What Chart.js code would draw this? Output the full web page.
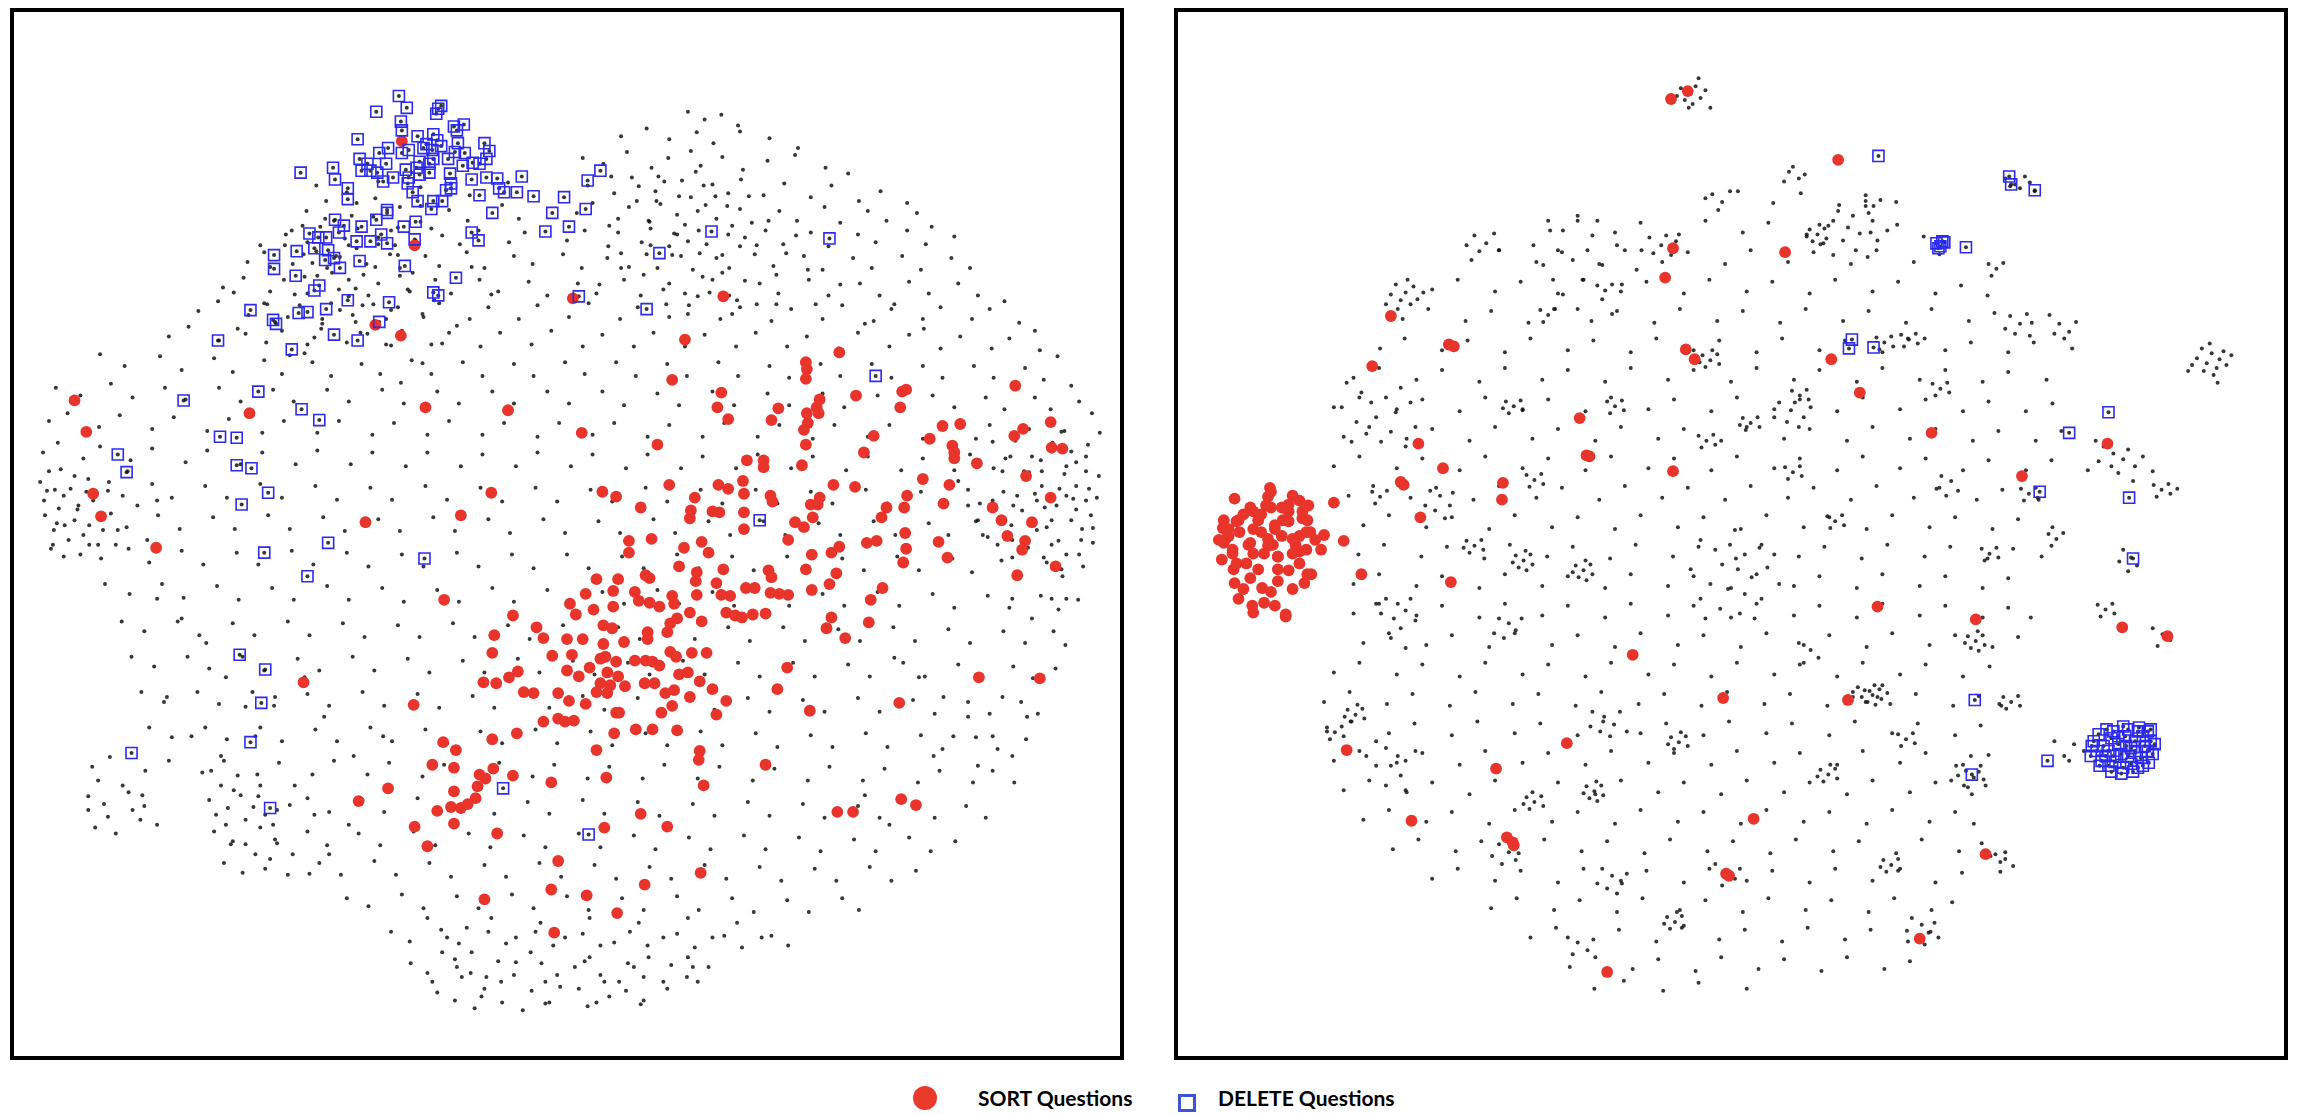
<!DOCTYPE html>
<html>
<head>
<meta charset="utf-8">
<script src="https://cdn.jsdelivr.net/npm/chart.js@4.4.1/dist/chart.umd.min.js"></script>
<style>
  html, body { margin: 0; padding: 0; background: #fff; }
  body { width: 2300px; height: 1114px; position: relative; overflow: hidden; font-family: Lato, "Open Sans", sans-serif; }
  .panel { position: absolute; top: 8px; width: 1106px; height: 1044px; border: 4px solid #000; background: #fff; }
  .panel canvas { display: block; }
  .legend-text { position: absolute; top: 1085px; font-weight: 700; font-size: 21px; color: #000; line-height: 26px; white-space: nowrap; }
  .legend-dot { position: absolute; left: 913px; top: 1086px; width: 24px; height: 24px; border-radius: 50%; background: #ea3a2c; }
  .legend-box { position: absolute; left: 1178px; top: 1094px; width: 12px; height: 12px; border: 3.5px solid #3c55d8; background: #fff; }
</style>
</head>
<body>
<div class="panel" style="left:10px"><canvas id="leftChart" width="1106" height="1044"></canvas></div>
<div class="panel" style="left:1174px"><canvas id="rightChart" width="1106" height="1044"></canvas></div>
<div class="legend-dot"></div>
<div class="legend-text" id="sortLabel" style="left:978px"></div>
<div class="legend-box"></div>
<div class="legend-text" id="deleteLabel" style="left:1218px"></div>
<script>
// series names
const seriesNames = ['SORT Questions', 'DELETE Questions'];

// left panel (flat x,y lists in picture pixels)
const leftSort = [
  66,398, 78,430, 85,493, 93,516, 149,548, 244,411, 372,321, 398,332, 423,405, 507,408, 490,492, 459,515, 362,522,
  399,134, 412,240, 573,294, 726,292, 687,336, 844,349, 810,359, 811,366, 810,376, 674,377, 724,390, 720,405, 731,417,
  782,406, 775,418, 824,397, 821,405, 823,411, 811,411, 812,421, 808,428, 810,443, 806,464, 861,393, 908,389, 912,387,
  906,405, 879,434, 869,451, 1023,383, 949,424, 967,422, 936,437, 959,444, 961,451, 961,457, 984,462, 1059,420, 1031,427,
  1022,434, 1060,446, 1071,447, 1034,475, 1059,497, 929,478, 956,484, 950,503, 913,495, 910,507, 892,507, 887,517,
  1000,507, 1009,520, 1040,522, 1015,536, 1033,541, 1030,550, 582,431, 659,443, 603,491, 617,496, 642,507, 671,484,
  697,497, 693,510, 692,518, 715,511, 722,512, 721,484, 731,488, 746,480, 747,493, 747,512, 747,529, 750,459, 767,459,
  767,466, 774,495, 776,501, 799,522, 808,527, 817,517, 815,504, 824,497, 822,504, 838,484, 860,486, 792,540, 630,541,
  630,553, 653,539, 686,548, 704,542, 711,553, 872,543, 882,541, 911,533, 912,549, 945,542, 954,558, 816,555, 836,553,
  844,547, 909,563, 1025,576, 1064,567, 810,570, 772,571, 775,578, 726,570, 699,573, 698,582, 681,567, 841,574, 834,585,
  816,591, 888,589, 876,601, 874,624, 836,619, 831,630, 850,640, 647,576, 651,579, 619,580, 597,580, 586,595, 614,592,
  614,608, 594,611, 570,605, 576,616, 636,593, 640,602, 651,604, 661,608, 674,597, 676,605, 699,596, 719,584, 724,596,
  733,597, 749,589, 758,589, 774,594, 783,595, 792,596, 729,614, 738,617, 745,619, 756,616, 769,615, 704,623, 692,614,
  679,620, 672,625, 669,634, 604,627, 613,630, 583,641, 567,641, 625,644, 649,634, 649,641, 604,646, 606,659, 572,657,
  601,661, 590,670, 617,664, 636,663, 647,663, 654,664, 661,668, 672,654, 678,659, 694,655, 709,655, 608,675, 619,679,
  601,686, 611,688, 626,689, 597,695, 608,696, 586,707, 569,704, 579,679, 567,673, 681,677, 690,675, 646,686, 656,686,
  667,696, 676,693, 702,684, 715,692, 729,704, 719,718, 692,700, 674,709, 663,716, 617,716, 620,716, 574,724, 565,725,
  615,737, 637,733, 654,733, 679,734, 791,670, 781,692, 814,714, 905,706, 986,680, 1048,681, 597,754, 607,782, 702,755,
  701,764, 769,769, 706,790, 642,819, 605,833, 669,832, 907,804, 922,810, 842,817, 858,817, 703,879, 646,891, 587,902,
  618,920, 442,601, 512,617, 536,629, 543,640, 493,637, 491,655, 552,658, 558,696, 517,674, 508,680, 495,686, 482,685,
  523,695, 533,696, 543,725, 558,722, 516,737, 491,743, 411,708, 299,685, 441,746, 454,754, 430,769, 452,772, 492,773,
  478,779, 484,783, 512,780, 476,791, 474,803, 452,796, 466,809, 459,813, 449,812, 435,816, 452,829, 412,832, 425,852,
  496,839, 551,787, 558,867, 551,896, 483,906, 554,940, 385,793, 355,806
];
const leftDelete = [
  396,88, 404,100, 373,104, 436,101, 439,98, 434,106, 398,114, 399,123, 452,119, 462,117, 455,123, 354,132, 415,129,
  431,127, 435,133, 424,137, 421,141, 430,143, 439,139, 456,136, 453,145, 385,141, 399,146, 406,143, 376,146, 483,136,
  488,144, 485,152, 478,157, 463,146, 446,152, 431,152, 427,157, 417,155, 414,161, 403,163, 356,152, 364,157, 358,164,
  367,164, 374,166, 383,157, 329,161, 296,166, 390,171, 406,171, 417,168, 427,166, 448,167, 461,159, 471,156, 470,173,
  485,171, 496,172, 521,170, 380,175, 405,177, 449,177, 449,182, 444,184, 331,173, 344,182, 344,193, 410,186, 415,195,
  431,195, 440,195, 429,203, 478,189, 498,182, 503,186, 516,186, 533,190, 564,191, 491,207, 552,207, 545,226, 384,204,
  384,207, 373,214, 331,214, 340,220, 335,227, 358,221, 378,229, 367,236, 353,236, 384,238, 401,221, 413,216, 412,234,
  470,227, 477,235, 305,228, 314,232, 322,232, 310,243, 324,245, 292,246, 269,250, 269,264, 321,255, 330,253, 336,263,
  356,256, 402,261, 291,271, 315,281, 310,286, 344,296, 386,298, 431,288, 436,291, 454,273, 245,306, 268,316, 271,320,
  294,309, 303,308, 322,305, 376,318, 330,331, 354,337, 212,337, 287,346, 569,221, 253,389, 177,398, 297,407, 315,418,
  214,435, 231,436, 110,453, 119,471, 231,464, 246,467, 263,492, 236,504, 324,543, 259,553, 422,559, 303,577, 234,657,
  260,672, 256,706, 245,746, 124,757, 265,813, 502,793, 601,164, 588,174, 586,203, 714,226, 661,248, 834,233, 579,292,
  648,305, 881,373, 763,520, 589,840
];
const leftGrey = [
  690,104, 707,112, 724,107, 741,118,
  622,129, 648,121, 671,132, 699,125, 716,136, 743,124, 773,131, 802,141,
  583,151, 604,157, 628,145, 653,161, 670,151, 693,144, 703,159, 725,150, 746,163, 771,154, 799,148, 830,161, 853,167,
  312,179, 343,186, 375,175, 418,181, 468,189, 507,176, 588,179, 615,187, 633,171, 657,185, 666,175, 693,191, 706,179,
  731,187, 744,173, 767,189, 788,177, 815,191, 836,179, 864,195, 886,185, 913,197,
  302,205, 321,213, 353,197, 370,211, 397,201, 418,216, 447,204, 466,215, 501,199, 518,213, 577,207, 593,197, 619,213,
  630,201, 651,216, 658,195, 679,209, 687,219, 708,199, 719,213, 743,203, 755,217, 783,205, 801,215, 829,201, 845,217,
  873,205, 892,215, 923,207, 938,221,
  281,229, 303,237, 316,221, 341,233, 354,223, 375,239, 388,225, 413,235, 429,223, 458,239, 477,225, 508,237, 524,227,
  567,235, 585,225, 609,241, 619,227, 643,237, 652,223, 671,241, 679,229, 701,225, 709,239, 731,229, 743,241, 769,225,
  787,239, 815,227, 833,241, 863,229, 881,237, 913,225, 932,239, 961,231,
  242,257, 259,247, 288,259, 299,249, 323,263, 332,251, 353,243, 363,259, 387,249, 397,263, 423,251, 437,261, 465,247,
  483,263, 513,251, 532,259, 563,249, 582,263, 608,253, 622,263, 648,249, 659,263, 683,251, 695,265, 719,253, 732,263,
  758,249, 777,261, 808,251, 827,265, 858,253, 877,263, 908,251, 927,265, 958,253, 977,263,
  217,283, 238,273, 265,287, 279,275, 303,289, 313,271, 335,285, 345,275, 365,291, 375,279, 397,271, 407,287, 433,275,
  449,289, 478,275, 497,287, 528,277, 547,291, 578,279, 597,289, 625,275, 642,291, 671,279, 687,289, 715,275, 732,291,
  763,279, 782,289, 813,275, 833,291, 865,279, 885,291, 915,277, 935,289, 965,279, 985,291, 1012,297,
  192,307, 212,297, 243,311, 259,299, 283,313, 295,301, 318,315, 327,299, 349,311, 359,301, 383,315, 395,303, 421,313,
  437,299, 468,315, 487,303, 518,315, 537,301, 569,313, 589,299, 621,315, 639,303, 671,313, 691,301, 723,315, 743,303,
  775,317, 795,305, 827,315, 847,301, 879,317, 897,305, 929,315, 947,303, 979,315, 997,305, 1027,319, 1043,327,
  162,333, 182,323, 213,337, 232,325, 261,339, 277,327, 303,341, 317,325, 343,339, 357,329, 383,341, 399,327, 429,341,
  447,329, 479,343, 499,329, 531,341, 551,327, 583,343, 603,331, 635,343, 655,329, 687,343, 707,331, 739,343, 759,329,
  791,343, 811,333, 843,345, 863,329, 895,343, 915,331, 947,345, 967,333, 999,345, 1017,335, 1048,347, 1066,353,
  92,351, 117,363, 153,353, 175,367, 208,355, 227,369, 259,357, 277,371, 308,359, 327,373, 358,361, 377,371, 409,357,
  429,371, 461,359, 481,373, 513,361, 533,373, 565,359, 585,371, 617,359, 637,373, 669,361, 689,373, 721,359, 741,373,
  773,363, 793,375, 825,361, 845,373, 877,361, 897,375, 929,363, 949,375, 981,363, 1001,375, 1033,365, 1052,377, 1080,383,
  47,385, 72,393, 103,381, 125,395, 158,385, 179,397, 213,385, 235,399, 268,387, 289,399, 323,387, 345,399, 379,387,
  401,401, 435,389, 457,401, 491,389, 513,401, 547,389, 569,401, 603,389, 625,403, 659,391, 681,403, 715,389, 737,403,
  771,391, 793,403, 827,391, 849,405, 883,393, 905,405, 939,393, 961,405, 993,395, 1012,407, 1043,395, 1059,407, 1088,399, 1101,411,
  40,419, 59,411, 91,425, 112,413, 145,427, 167,415, 201,429, 223,417, 257,431, 279,419, 313,431, 335,419, 369,433,
  391,421, 425,433, 447,419, 481,433, 503,421, 537,435, 559,421, 593,433, 615,421, 649,435, 671,423, 705,435, 727,421,
  761,435, 783,423, 817,437, 839,423, 873,435, 895,423, 929,437, 951,425, 983,437, 997,423, 1023,439, 1037,427,
  1061,441, 1073,429, 1097,443, 1109,431,
  34,451, 49,441, 75,457, 92,445, 123,459, 145,447, 179,461, 201,449, 235,463, 257,451, 291,463, 313,449, 347,463,
  369,451, 403,465, 425,451, 459,465, 481,453, 515,465, 537,451, 571,465, 593,453, 627,467, 649,453, 683,467, 705,455,
  739,467, 761,453, 795,467, 817,455, 851,469, 873,455, 907,469, 929,457, 961,469, 977,453, 1001,467, 1013,457,
  1037,471, 1049,459, 1073,473, 1085,461, 1108,475,
  31,481, 46,489, 66,475, 78,491, 101,481, 115,495, 145,483, 165,497, 199,485, 221,497, 255,483, 277,497, 311,485,
  333,499, 367,487, 389,499, 423,485, 445,499, 479,487, 501,501, 535,487, 557,501, 591,489, 613,501, 647,487, 669,501,
  703,489, 725,503, 759,489, 781,503, 815,491, 837,503, 871,489, 893,503, 927,491, 947,503, 975,489, 987,503, 1011,491,
  1021,505, 1043,493, 1053,507, 1075,495, 1085,509, 1106,497,
  36,515, 48,523, 69,509, 81,525, 103,513, 119,527, 151,515, 173,529, 207,517, 229,529, 263,515, 285,529, 319,517,
  341,531, 375,519, 397,531, 431,517, 453,531, 487,519, 509,533, 543,519, 565,533, 599,521, 621,533, 655,519, 677,533,
  711,521, 733,535, 767,521, 789,535, 823,523, 845,535, 879,521, 901,535, 935,523, 955,535, 983,521, 995,537, 1019,525,
  1031,539, 1055,527, 1067,541, 1091,529, 1102,543,
  42,549, 55,557, 81,545, 93,559, 121,549, 142,563, 175,551, 197,565, 231,553, 253,565, 287,551, 309,565, 343,553,
  365,567, 399,555, 421,567, 455,553, 477,567, 511,555, 533,569, 567,555, 589,569, 623,557, 645,569, 679,555, 701,569,
  735,557, 757,571, 791,557, 813,571, 847,559, 869,571, 903,557, 925,571, 959,559, 979,573, 1009,561, 1027,575,
  1055,563, 1071,577, 1092,567,
  97,585, 122,595, 155,585, 177,599, 211,587, 233,601, 267,589, 289,601, 323,587, 345,601, 379,589, 401,603, 435,591,
  457,603, 491,589, 513,603, 547,591, 569,605, 603,593, 625,605, 659,591, 681,605, 715,593, 737,607, 771,593, 793,607,
  827,595, 849,607, 883,593, 905,607, 939,595, 961,609, 995,597, 1017,609, 1049,597, 1067,611, 1087,601,
  114,623, 137,633, 171,623, 193,637, 227,625, 249,637, 283,623, 305,637, 339,625, 361,639, 395,627, 417,639, 451,625,
  473,639, 507,627, 529,641, 563,627, 585,641, 619,629, 641,641, 675,627, 697,641, 731,629, 753,643, 787,629, 809,643,
  843,631, 865,643, 899,629, 921,643, 955,631, 977,645, 1011,633, 1033,645, 1062,633, 1074,647,
  124,659, 147,669, 181,659, 203,671, 237,659, 259,673, 293,661, 315,673, 349,659, 371,673, 405,661, 427,675, 461,663,
  483,675, 517,661, 539,675, 573,663, 595,677, 629,665, 651,677, 685,663, 707,677, 741,665, 763,679, 797,665, 819,679,
  853,667, 875,679, 909,665, 931,679, 965,667, 987,681, 1021,669, 1041,681, 1064,671,
  134,695, 157,705, 191,695, 213,707, 247,695, 269,709, 303,697, 325,709, 359,695, 381,709, 415,697, 437,711, 471,699,
  493,711, 527,697, 549,711, 583,699, 605,713, 639,701, 661,713, 695,699, 717,713, 751,701, 773,715, 807,703, 829,715,
  863,701, 885,715, 919,703, 941,717, 975,705, 997,717, 1029,705, 1046,717,
  142,731, 165,741, 199,731, 221,743, 255,731, 277,745, 311,733, 333,745, 367,731, 389,745, 423,733, 445,747, 479,735,
  501,747, 535,733, 557,747, 591,735, 613,749, 647,737, 669,749, 703,735, 725,749, 759,737, 781,751, 815,739, 837,751,
  871,737, 893,751, 927,739, 949,753, 983,741, 1005,753, 1034,743,
  84,771, 102,761, 138,775, 162,765, 196,777, 218,765, 252,779, 274,767, 308,779, 330,765, 364,779, 386,767, 420,781,
  442,769, 476,781, 498,767, 532,781, 554,769, 588,783, 610,771, 644,783, 666,769, 700,783, 722,771, 756,785, 778,773,
  812,785, 834,771, 868,785, 890,773, 924,787, 946,775, 980,787, 1000,775, 1022,787,
  80,801, 96,809, 121,797, 137,811, 203,805, 222,813, 253,801, 272,815, 303,803, 325,817, 359,805, 381,817, 415,803,
  437,817, 471,805, 493,819, 527,807, 549,819, 583,805, 605,819, 639,807, 661,821, 695,809, 717,821, 751,807, 773,821,
  807,809, 829,823, 863,811, 885,823, 919,809, 941,823, 973,811, 993,823,
  87,833, 108,839, 133,825, 208,837, 227,847, 255,833, 272,849, 303,837, 323,851, 355,839, 377,851, 411,837, 433,851,
  467,839, 489,853, 523,841, 545,853, 579,839, 601,853, 635,841, 657,855, 691,843, 713,855, 747,841, 769,855, 803,843,
  825,857, 859,845, 881,857, 915,843, 937,857, 962,847,
  218,869, 237,879, 265,865, 283,881, 315,869, 337,881, 371,867, 393,881, 427,869, 449,883, 483,871, 505,883, 539,869,
  561,883, 595,871, 617,885, 651,873, 673,885, 707,871, 729,885, 763,873, 785,887, 819,875, 841,887, 875,873, 897,887, 922,877,
  343,905, 365,913, 399,901, 421,915, 455,903, 477,915, 511,901, 533,915, 567,903, 589,917, 623,905, 645,917, 679,903,
  701,917, 735,905, 757,919, 791,907, 813,919, 847,905, 864,917,
  388,939, 407,949, 439,937, 457,951, 487,939, 505,951, 535,939, 553,953, 583,941, 601,953, 631,939, 649,953, 679,941,
  697,955, 727,943, 745,955, 775,943, 792,953,
  408,971, 425,981, 453,967, 469,981, 497,969, 513,983, 541,971, 557,983, 585,969, 601,983, 629,971, 645,985, 673,973,
  689,985, 711,975,
  435,1001, 453,1009, 483,997, 501,1011, 531,999, 549,1011, 579,997, 597,1011, 627,999, 645,1009, 669,997,
  473,1017, 522,1019, 588,1015, 642,1013,
  330,215, 345,240, 312,246, 328,268, 360,270, 300,272, 345,292, 370,300, 318,320, 352,318, 388,342, 300,350, 270,318,
  280,240, 395,250, 405,285, 420,310, 440,340, 375,232, 290,290,
  640,180, 662,198, 684,174, 700,205, 718,190, 735,220, 652,240, 674,250, 690,236, 705,272, 725,250, 748,276, 760,240,
  630,262, 665,285, 700,292, 740,296, 780,270, 610,220, 800,230,
  1060,450, 1075,465, 1085,485, 1095,470, 1050,485, 1065,505, 1080,520, 1095,500, 1045,530, 1060,545, 1075,555,
  1090,540, 1030,510, 1010,470, 1100,515, 1040,455, 1020,540, 985,520, 1070,430, 1000,500,
  40,470, 55,495, 70,505, 45,530, 60,540, 85,500, 75,535, 90,545, 35,500, 52,468, 100,490, 110,530,
  215,790, 235,800, 255,790, 240,825, 260,820, 225,850, 250,860, 270,845, 285,810, 210,820, 232,780,
  440,960, 470,960, 500,990, 530,960, 560,995, 590,965, 620,990, 650,965, 480,1005, 545,1012, 610,1005, 690,965,
  700,990, 460,985, 90,785, 115,790, 125,815, 100,822, 80,815, 135,800, 150,830,
  265,262, 287,225, 308,258, 336,252, 352,284, 372,262, 392,240, 410,268, 432,296, 455,322, 388,306, 364,330, 336,306,
  310,334, 285,352, 262,300, 240,330, 228,288, 255,240, 298,220, 322,195, 348,210, 372,192, 395,222, 418,200, 440,230,
  470,262, 490,290, 420,360, 398,380,
  612,170, 638,195, 660,170, 681,190, 698,165, 715,178, 730,200, 752,190, 772,215, 790,248, 812,265, 760,300, 735,310,
  712,288, 690,310, 668,300, 645,270, 622,248, 600,280, 650,215, 676,228, 702,248, 725,268, 748,232, 780,300, 820,300,
  845,280, 870,320, 900,300, 930,325,
  1000,440, 1018,455, 1032,470, 1050,470, 1068,488, 1082,498, 1098,488, 1102,528, 1088,555, 1070,570, 1052,558, 1036,548,
  1020,558, 1005,545, 990,535, 975,505, 965,480, 1045,500, 1060,520, 1025,495, 1080,450, 1095,455, 1060,600, 1040,620,
  1020,600, 1075,600,
  38,490, 50,508, 66,520, 80,478, 95,530, 108,545, 72,555, 56,525, 44,545, 62,488, 120,470, 130,505, 140,540, 150,500,
  150,600, 175,620, 200,645, 220,680, 240,710, 160,700, 185,740, 215,760, 250,740, 270,700, 300,680, 320,720, 350,760, 380,740,
  205,775, 228,795, 248,812, 268,830, 288,860, 305,880, 325,860, 345,830, 260,875, 240,850, 220,830, 290,790, 310,820,
  425,925, 445,945, 465,935, 490,925, 515,945, 540,930, 565,945, 590,925, 615,950, 640,930, 665,945, 690,925, 715,945,
  740,930, 765,945, 430,990, 455,975, 485,985, 515,970, 545,990, 575,975, 605,990, 635,975, 665,990, 695,975,
  900,660, 925,680, 950,700, 975,720, 1000,740, 1020,760, 940,760, 960,740, 985,770, 1010,700, 1035,720, 870,800, 895,830
];

// right panel
const rightSort = [
  1687,83, 1670,91, 1672,243, 1664,273, 1385,312, 1444,341, 1449,343, 1366,363, 1685,346, 1694,356, 1577,416,
  1584,454, 1587,455, 1672,470, 1413,442, 1438,467, 1395,481, 1398,484, 1499,482, 1498,499, 1415,517, 1327,502,
  1337,541, 1317,535, 1314,550, 1355,575, 1446,583, 1631,657, 1723,701, 1340,754, 1564,747, 1492,773, 1406,826,
  1503,843, 1509,848, 1510,851, 1605,980, 1726,880, 1729,882, 1840,153, 1786,247, 1833,356, 1862,390, 1935,431,
  2114,442, 2027,475, 1880,608, 1980,621, 1850,703, 1754,824, 1990,860, 1923,946, 2129,629, 2175,638,
  1226,498, 1242,507, 1258,505, 1263,491, 1260,496, 1285,495, 1292,500, 1301,505, 1281,511, 1274,507, 1253,514,
  1235,514, 1220,529, 1217,539, 1231,532, 1245,529, 1267,525, 1281,521, 1295,518, 1299,532, 1285,539, 1274,536,
  1260,539, 1242,543, 1224,550, 1256,554, 1292,552, 1270,557, 1220,536, 1215,543, 1228,521, 1245,511, 1263,507,
  1281,504, 1295,511, 1303,532, 1292,536, 1299,550, 1304,575, 1297,584, 1292,564, 1281,571, 1270,582, 1263,593,
  1254,589, 1244,607, 1256,604, 1267,607, 1278,616, 1242,579, 1238,564, 1228,564, 1224,554, 1245,554, 1260,546,
  1267,529, 1253,532, 1270,557, 1285,554, 1230,520, 1250,520, 1275,520, 1240,545, 1265,545, 1288,545, 1225,570,
  1250,570, 1270,570, 1235,590, 1285,590, 1215,520, 1300,520, 1262,487, 1210,540, 1213,560, 1230,600, 1245,614,
  1278,618, 1300,575, 1308,540, 1226,584, 1214,528
];
const rightDelete = [
  1881,149, 2014,170, 2016,178, 2040,184, 1940,238, 1944,241, 1948,237, 1942,243, 1946,236, 1970,242, 1854,336,
  1851,345, 1876,344, 2115,410, 2075,431, 2045,491, 2136,497, 2140,559, 1979,703, 1976,779, 2053,765,
  2100,745, 2105,738, 2110,750, 2112,760, 2118,742, 2120,735, 2125,748, 2128,758, 2132,740, 2135,733, 2138,752,
  2142,745, 2145,735, 2148,762, 2150,740, 2152,750, 2155,735, 2158,745, 2160,758, 2103,755, 2108,765, 2115,770,
  2122,766, 2130,772, 2138,768, 2145,772, 2115,755, 2125,740, 2135,760, 2142,755, 2098,750, 2106,770, 2118,776,
  2128,778, 2140,776, 2150,770, 2155,755, 2113,733, 2130,730, 2146,731, 2158,733, 2162,748, 2097,760, 2120,760,
  2133,750, 2156,767
];
const rightGrey = [
  1705,192, 1738,185, 1774,197, 1802,187, 1841,199, 1868,189, 1899,196,
  1547,225, 1575,215, 1613,227, 1639,217, 1678,229, 1705,215, 1743,227, 1769,217, 1808,229, 1835,215, 1873,227, 1900,219, 1927,231,
  1467,255, 1495,245, 1533,257, 1559,247, 1597,259, 1623,245, 1661,257, 1687,247, 1725,259, 1751,245, 1789,257, 1815,247,
  1853,259, 1879,245, 1917,257, 1943,249,
  1427,285, 1453,275, 1491,287, 1517,277, 1555,289, 1581,275, 1619,287, 1645,277, 1683,289, 1709,275, 1747,287, 1773,277,
  1811,289, 1837,275, 1875,287, 1901,277, 1939,289, 1965,281, 1992,291,
  1397,315, 1423,305, 1461,317, 1487,307, 1525,319, 1551,305, 1589,317, 1615,307, 1653,319, 1679,305, 1717,317, 1743,307,
  1781,319, 1807,305, 1845,317, 1871,307, 1909,319, 1935,305, 1973,317, 1999,309, 2037,319, 2055,311,
  1374,345, 1399,335, 1437,347, 1463,337, 1501,349, 1527,335, 1565,347, 1591,337, 1629,349, 1655,335, 1693,347, 1719,337,
  1757,349, 1783,335, 1821,347, 1847,337, 1885,349, 1911,335, 1949,347, 1975,339, 2013,349, 2039,339, 2078,345,
  1347,375, 1373,365, 1411,377, 1437,367, 1475,379, 1501,365, 1539,377, 1565,367, 1603,379, 1629,365, 1667,377, 1693,367,
  1731,379, 1757,365, 1795,377, 1821,367, 1859,379, 1885,365, 1923,377, 1949,367, 1987,379, 2013,369, 2052,377,
  1327,405, 1353,395, 1391,407, 1417,397, 1455,409, 1481,395, 1519,407, 1545,397, 1583,409, 1609,395, 1647,407, 1673,397,
  1711,409, 1737,395, 1775,407, 1801,397, 1839,409, 1865,395, 1903,407, 1929,397, 1967,409, 1993,399, 2031,409, 2058,401,
  1337,435, 1363,425, 1401,437, 1427,427, 1465,439, 1491,425, 1529,437, 1555,427, 1593,439, 1619,425, 1657,437, 1683,427,
  1721,439, 1747,425, 1785,437, 1811,427, 1849,439, 1875,425, 1913,437, 1939,427, 1977,439, 2003,429, 2041,439, 2067,429, 2102,439,
  1327,465, 1353,455, 1391,467, 1417,457, 1455,469, 1481,455, 1519,467, 1545,457, 1583,469, 1609,455, 1647,467, 1673,457,
  1711,469, 1737,455, 1775,467, 1801,457, 1839,469, 1865,455, 1903,467, 1929,457, 1967,469, 1993,459, 2031,469, 2057,459, 2094,469,
  1342,495, 1367,485, 1405,497, 1431,487, 1469,499, 1495,485, 1533,497, 1559,487, 1597,499, 1623,485, 1661,497, 1687,487,
  1725,499, 1751,485, 1789,497, 1815,487, 1853,499, 1879,485, 1917,497, 1943,487, 1981,499, 2007,489, 2044,499,
  1357,525, 1383,515, 1421,527, 1447,517, 1485,529, 1511,515, 1549,527, 1575,517, 1613,529, 1639,515, 1677,527, 1703,517,
  1741,529, 1767,515, 1805,527, 1831,517, 1869,529, 1895,515, 1933,527, 1959,517, 1997,529, 2023,519, 2058,527,
  1352,555, 1378,545, 1416,557, 1442,547, 1480,559, 1506,545, 1544,557, 1570,547, 1608,559, 1634,545, 1672,557, 1698,547,
  1736,559, 1762,545, 1800,557, 1826,547, 1864,559, 1890,545, 1928,557, 1954,547, 1992,559, 2018,549, 2047,557,
  1347,585, 1373,575, 1411,587, 1437,577, 1475,589, 1501,575, 1539,587, 1565,577, 1603,589, 1629,575, 1667,587, 1693,577,
  1731,589, 1757,575, 1795,587, 1821,577, 1859,589, 1885,575, 1923,587, 1949,577, 1987,589, 2013,579,
  1347,615, 1373,605, 1411,617, 1437,607, 1475,619, 1501,605, 1539,617, 1565,607, 1603,619, 1629,605, 1667,617, 1693,607,
  1731,619, 1757,605, 1795,617, 1821,607, 1859,619, 1885,605, 1923,617, 1949,607, 1987,619, 2013,609, 2036,619,
  1357,645, 1383,635, 1421,647, 1447,637, 1485,649, 1511,635, 1549,647, 1575,637, 1613,649, 1639,635, 1677,647, 1703,637,
  1741,649, 1767,635, 1805,647, 1831,637, 1869,649, 1895,635, 1933,647, 1959,637, 1997,649, 2023,639,
  1327,675, 1353,665, 1391,677, 1417,667, 1455,679, 1481,665, 1519,677, 1545,667, 1583,679, 1609,665, 1647,677, 1673,667,
  1711,679, 1737,665, 1775,677, 1801,667, 1839,679, 1865,665, 1903,677, 1929,667, 1967,679, 1994,669,
  1317,705, 1343,695, 1381,707, 1407,697, 1445,709, 1471,695, 1509,707, 1535,697, 1573,709, 1599,695, 1637,707, 1663,697,
  1701,709, 1727,695, 1765,707, 1791,697, 1829,709, 1855,695, 1893,707, 1919,697, 1957,709, 1983,699, 2006,709,
  1320,735, 1345,725, 1383,737, 1409,727, 1447,739, 1473,725, 1511,737, 1537,727, 1575,739, 1601,725, 1639,737, 1665,727,
  1703,739, 1729,725, 1767,737, 1793,727, 1831,739, 1857,725, 1895,737, 1921,727, 1959,739, 1985,729,
  1327,765, 1353,755, 1391,767, 1417,757, 1455,769, 1481,755, 1519,767, 1545,757, 1583,769, 1609,755, 1647,767, 1673,757,
  1711,769, 1737,755, 1775,767, 1801,757, 1839,769, 1865,755, 1903,767, 1929,757, 1967,769, 1993,759,
  1337,795, 1363,785, 1401,797, 1427,787, 1465,799, 1491,785, 1529,797, 1555,787, 1593,799, 1619,785, 1657,797, 1683,787,
  1721,799, 1747,785, 1785,797, 1811,787, 1849,799, 1875,785, 1913,797, 1939,787, 1976,799,
  1357,825, 1383,815, 1421,827, 1447,817, 1485,829, 1511,815, 1549,827, 1575,817, 1613,829, 1639,815, 1677,827, 1703,817,
  1741,829, 1767,815, 1805,827, 1831,817, 1869,829, 1895,815, 1933,827, 1959,817, 1978,829,
  1387,855, 1413,845, 1451,857, 1477,847, 1515,859, 1541,845, 1579,857, 1605,847, 1643,859, 1669,845, 1707,857, 1733,847,
  1771,859, 1797,845, 1835,857, 1861,847, 1899,859, 1925,845, 1963,857, 1986,849,
  1427,885, 1453,875, 1491,887, 1517,877, 1555,889, 1581,875, 1619,887, 1645,877, 1683,889, 1709,875, 1747,887, 1773,877,
  1811,889, 1837,875, 1875,887, 1901,877, 1939,889, 1966,879,
  1487,915, 1513,905, 1551,917, 1577,907, 1615,919, 1641,905, 1679,917, 1705,907, 1743,919, 1769,905, 1807,917, 1833,907,
  1871,919, 1897,905, 1935,917, 1956,909,
  1527,945, 1553,935, 1591,947, 1617,937, 1655,949, 1681,935, 1719,947, 1745,937, 1783,949, 1809,935, 1847,947, 1873,937,
  1911,949, 1934,939,
  1567,975, 1593,965, 1631,977, 1657,967, 1695,979, 1721,965, 1759,977, 1785,967, 1823,979, 1849,965, 1887,977, 1913,969,
  1592,997, 1622,989, 1662,999, 1698,991, 1747,997,
  1680,80, 1690,86, 1695,78, 1684,92, 1700,90, 1676,88, 1692,96, 1705,82, 1688,100, 1698,70, 1710,100,
  1390,280, 1400,288, 1408,282, 1395,296, 1412,295, 1385,290, 1402,275, 1418,288, 1392,305, 1405,300, 1380,300,
  1470,230, 1482,238, 1490,228, 1475,246, 1462,240, 1495,245,
  1545,215, 1560,225, 1575,210, 1590,230, 1555,245, 1570,255, 1585,245, 1600,260, 1540,260, 1615,240, 1580,275,
  1560,290, 1600,295, 1620,280, 1550,275, 1635,265, 1530,240, 1595,215, 1610,310, 1575,305,
  1648,232, 1660,240, 1665,230, 1652,248, 1670,250, 1640,245, 1675,236,
  1712,188, 1722,196, 1730,185, 1718,204, 1790,165, 1800,172, 1794,160, 1806,168, 1785,175,
  1840,205, 1855,210, 1868,200, 1850,222, 1862,228, 1875,215, 1830,220, 1845,235, 1880,235, 1858,245, 1870,252,
  1835,250, 1890,225, 1825,238,
  2010,172, 2020,178, 2030,170, 2025,182, 2040,185, 2015,180, 2035,176,
  2210,345, 2220,350, 2228,356, 2215,360, 2225,365, 2232,348, 2205,355, 2218,340, 2235,362, 2222,372, 2212,368,
  2200,362, 2240,352, 2196,368, 2226,380,
  2015,312, 2025,320, 2032,310, 2020,330, 2035,332, 2010,325, 2065,320, 2075,328, 2082,318, 2070,335, 2060,330,
  1340,380, 1355,390, 1365,400, 1380,395, 1390,410, 1370,415, 1350,420, 1395,385, 1405,400, 1360,432, 1385,430,
  1410,425, 1375,440, 1335,405, 1400,445, 1345,440,
  1425,490, 1435,495, 1445,505, 1430,510, 1448,492, 1420,505, 1440,518,
  1380,600, 1392,605, 1400,612, 1388,620, 1405,600, 1375,615, 1395,630, 1410,622, 1370,605, 1385,640, 1400,650,
  1495,620, 1505,625, 1512,632, 1500,640, 1518,620, 1490,635,
  1370,745, 1380,752, 1392,760, 1385,770, 1400,765, 1370,770, 1395,780, 1360,760, 1410,755, 1380,790, 1400,795,
  1590,715, 1602,720, 1612,728, 1598,735, 1618,715, 1608,740, 1588,730, 1625,735,
  1600,875, 1610,882, 1620,890, 1605,895, 1625,880, 1595,890, 1615,900,
  1700,540, 1715,550, 1730,545, 1745,555, 1760,548, 1722,565, 1738,570, 1752,578, 1768,568, 1710,585, 1728,590,
  1745,595, 1762,600, 1700,600, 1720,610, 1740,615, 1780,585, 1690,570, 1775,555, 1755,620, 1735,530, 1705,620,
  1780,400, 1792,408, 1805,415, 1788,420, 1800,425, 1812,405, 1775,415,
  2110,445, 2120,452, 2130,458, 2118,465, 2135,448, 2142,465, 2125,472, 2105,460, 2150,455, 2160,470, 2140,480,
  2130,550, 2138,558, 2126,562, 2144,566, 2135,572,
  1945,475, 1955,480, 1962,490, 1950,495, 1940,488,
  1860,690, 1872,694, 1880,700, 1868,705, 1885,688, 1855,700,
  1960,770, 1970,775, 1978,782, 1968,790, 1985,770, 1955,785, 1975,760, 1990,790,
  1915,925, 1925,932, 1932,940, 1920,945, 1938,930, 1910,938, 1928,952, 1942,945,
  1715,870, 1725,878, 1735,885, 1722,892, 1740,875,
  1565,945, 1575,950, 1585,958, 1570,962, 1495,850, 1505,858, 1512,866, 1498,870, 1488,862,
  2000,860, 2010,865, 2018,872, 2005,878, 1800,645, 1812,652, 1820,660, 1805,665,
  2160,630, 2170,636, 2178,642, 2165,648, 2060,745, 2070,760, 2080,748, 2075,765, 2090,755,
  1995,862, 2005,868, 2010,858,
  1520,561, 1512,556, 1527,555, 1515,568, 1529,565, 1509,563, 1522,551, 1523,571,
  1349,718, 1341,713, 1356,712, 1344,725, 1358,722, 1338,720, 1351,708,
  1328,736, 1320,731, 1335,730, 1323,743, 1337,740,
  1581,571, 1573,566, 1588,565, 1576,578, 1590,575, 1570,573, 1583,561, 1584,581,
  1470,546, 1462,541, 1477,540, 1465,553, 1479,550, 1459,548,
  1592,796, 1584,791, 1599,790, 1587,803, 1601,800, 1581,798, 1594,786, 1595,806,
  1531,807, 1523,802, 1538,801, 1526,814, 1540,811, 1520,809,
  1678,746, 1670,741, 1685,740, 1673,753, 1687,750, 1667,748, 1680,736,
  1674,929, 1666,924, 1681,923, 1669,936, 1683,933, 1663,931, 1676,919,
  1875,698, 1867,693, 1882,692, 1870,705, 1884,702, 1864,700, 1877,688, 1878,708, 1890,696,
  1830,779, 1822,774, 1837,773, 1825,786, 1839,783, 1819,781, 1832,769,
  1983,776, 1962,780, 1972,792, 1988,784,
  1980,643, 1972,638, 1987,637, 1975,650, 1989,647, 1969,645, 1982,633, 1983,653,
  1894,871, 1886,866, 1901,865, 1889,878, 1903,875, 1883,873,
  1909,743, 1901,738, 1916,737, 1904,750, 1918,747,
  2016,705, 2008,700, 2023,699, 2011,712, 2025,709, 2004,707,
  2112,611, 2104,606, 2119,605, 2107,618, 2121,615,
  2062,539, 2054,534, 2069,533, 2057,546,
  1994,554, 1986,549, 2001,548, 1989,561, 2003,558,
  1837,521, 1829,516, 1844,515, 1832,528, 1846,525,
  1819,229, 1811,224, 1826,223, 1814,236, 1828,233, 1808,231, 1821,219, 1822,239,
  1876,200, 1868,195, 1883,194, 1871,207,
  1887,339, 1879,334, 1894,333, 1882,346, 1896,343, 1912,336, 1904,331, 1919,330, 1907,343, 1921,340, 1928,335,
  2034,493, 2026,488, 2041,487, 2029,500, 2043,497,
  2169,489, 2161,484, 2176,483, 2164,496, 2178,493, 2185,488,
  1944,386, 1936,381, 1951,380, 1939,393, 1953,390,
  2001,264, 1993,259, 2008,258, 1996,271,
  1801,393, 1793,388, 1808,387, 1796,400, 1810,397,
  1751,421, 1743,416, 1758,415, 1746,428, 1760,425, 1740,423,
  1794,471, 1786,466, 1801,465, 1789,478, 1803,475,
  1510,404, 1502,399, 1517,398, 1505,411, 1519,408, 1499,406,
  1710,357, 1702,352, 1717,351, 1705,364, 1719,361, 1699,359, 1712,347,
  1706,439, 1698,434, 1713,433, 1701,446, 1715,443,
  1374,496, 1366,491, 1381,490, 1369,503,
  1613,404, 1605,399, 1620,398, 1608,411, 1622,408,
  1531,479, 1523,474, 1538,473, 1526,486, 1540,483,
  1545,311, 1537,306, 1552,305, 1540,318,
  1603,286, 1595,281, 1610,280
];

function toPoints(flat) {
  const pts = [];
  for (let i = 0; i < flat.length; i += 2) {
    pts.push({ x: flat[i], y: flat[i + 1] });
  }
  return pts;
}

function makeScatter(canvasId, sortFlat, deleteFlat, greyFlat, xMin, xMax) {
  const ctx = document.getElementById(canvasId).getContext('2d');
  return new Chart(ctx, {
    type: 'scatter',
    data: {
      datasets: [
        {
          label: seriesNames[1],
          data: toPoints(deleteFlat),
          pointStyle: 'rect',
          pointRadius: 7.8,
          backgroundColor: 'rgba(0,0,0,0)',
          borderColor: '#2b2bf2',
          borderWidth: 1.6
        },
        {
          label: seriesNames[0],
          data: toPoints(sortFlat),
          pointRadius: 5.9,
          backgroundColor: '#e8342a',
          borderWidth: 0
        },
        {
          label: 'all questions',
          // every question is also a grey point, so the marked ones get one too
          data: toPoints(greyFlat.concat(deleteFlat)),
          pointRadius: 2.0,
          backgroundColor: 'rgba(20,20,20,0.85)',
          borderWidth: 0
        }
      ]
    },
    options: {
      responsive: false,
      animation: false,
      events: [],
      layout: { padding: 0 },
      plugins: {
        legend: { display: false },
        tooltip: { enabled: false }
      },
      scales: {
        x: { type: 'linear', min: xMin, max: xMax, display: false },
        y: { type: 'linear', min: 12, max: 1056, reverse: true, display: false }
      }
    }
  });
}

document.getElementById('sortLabel').textContent = seriesNames[0];
document.getElementById('deleteLabel').textContent = seriesNames[1];

makeScatter('leftChart', leftSort, leftDelete, leftGrey, 14, 1120);
makeScatter('rightChart', rightSort, rightDelete, rightGrey, 1178, 2284);
</script>
</body>
</html>
